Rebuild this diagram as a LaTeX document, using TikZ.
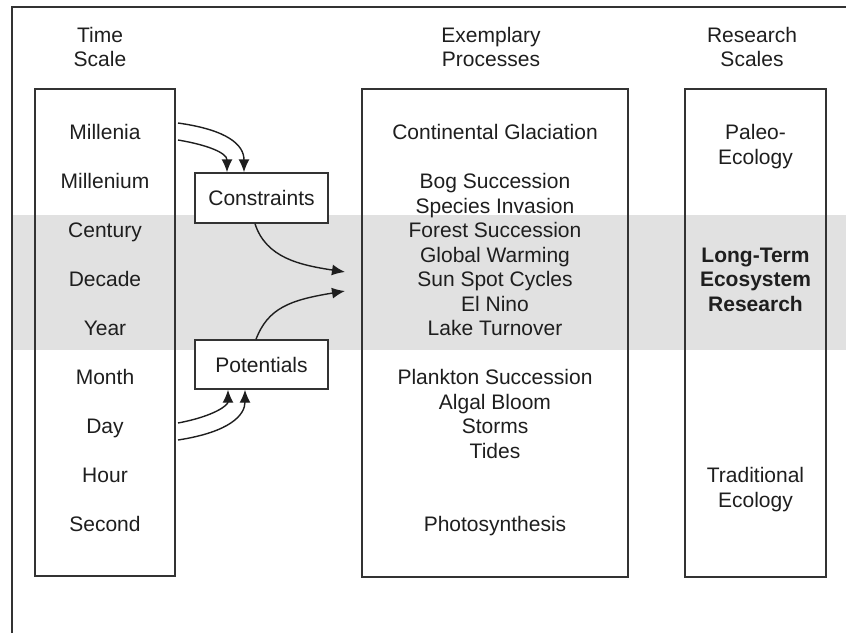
\documentclass[tikz,border=0pt]{standalone}
\usepackage{fontspec}
\setmainfont{Liberation Sans}
\usetikzlibrary{arrows.meta}
\definecolor{band}{HTML}{E1E1E1}
\definecolor{ink}{HTML}{1E1E1E}
\definecolor{edge}{HTML}{333333}
\begin{document}
\begin{tikzpicture}[x=1pt,y=-1pt,
  lbl/.style={anchor=base,inner sep=0pt,text=ink,font=\fontsize{21pt}{24.5pt}\selectfont},
  blbl/.style={lbl,font=\fontsize{21pt}{24.5pt}\selectfont\bfseries},
  colbox/.style={draw=edge,line width=1.4pt,inner sep=0pt},
  smallbox/.style={draw=edge,line width=1.4pt,fill=white,inner sep=0pt,text=ink,font=\fontsize{21pt}{24.5pt}\selectfont},
  arr/.style={draw=ink,line width=1.4pt,-{Latex[length=13pt,width=11pt]}}]
\useasboundingbox (0,0) rectangle (846,633);
% gray band
\fill[band] (12,215) rectangle (846,350);
% frame
\draw[edge,line width=1.4pt] (12,633) -- (12,7) -- (846,7);
% column boxes
\node[colbox,minimum width=140pt,minimum height=487pt] (tbox) at (105,332.5) {};
\node[colbox,minimum width=266pt,minimum height=488pt] (pbox) at (495,333) {};
\node[colbox,minimum width=141pt,minimum height=488pt] (rbox) at (755.5,333) {};
% headers
\node[lbl] (h1a) at (100,42) {Time};
\node[lbl] (h1b) at (100,66.5) {Scale};
\node[lbl] (h2a) at (491,42) {Exemplary};
\node[lbl] (h2b) at (491,66.5) {Processes};
\node[lbl] (h3a) at (752,42) {Research};
\node[lbl] (h3b) at (752,66.5) {Scales};
% time scale labels
\foreach \t/\k [count=\i] in {Millenia/0,Millenium/2,Century/4,Decade/6,Year/8,Month/10,Day/12,Hour/14,Second/16}
  \node[lbl] (t\i) at (105,139.5+24.5*\k) {\t};
% processes
\foreach \t/\k [count=\i] in {Continental Glaciation/0,Bog Succession/2,Species Invasion/3,Forest Succession/4,Global Warming/5,Sun Spot Cycles/6,El Nino/7,Lake Turnover/8,Plankton Succession/10,Algal Bloom/11,Storms/12,Tides/13,Photosynthesis/16}
  \node[lbl] (p\i) at (495,139.5+24.5*\k) {\t};
% research scales
\foreach \t/\k [count=\i] in {Paleo-/0,Ecology/1,Traditional/14,Ecology/15}
  \node[lbl] (r\i) at (755.5,139.5+24.5*\k) {\t};
\foreach \t/\k [count=\i] in {Long-Term/5,Ecosystem/6,Research/7}
  \node[blbl] (b\i) at (755.5,139.5+24.5*\k) {\t};
% constraint / potential boxes
\node[smallbox,minimum width=133pt,minimum height=50pt] (con) at (261.5,198) {Constraints};
\node[smallbox,minimum width=133pt,minimum height=49pt] (pot) at (261.5,364.5) {Potentials};
% arrow coordinates
\coordinate (s1) at (178,123);
\coordinate (s2) at (178,140);
\coordinate (s5) at (178,423);
\coordinate (s6) at (178,440);
\coordinate (e3) at (345,272);
\coordinate (e4) at (345,291);
% arrows
\draw[arr] (s1) .. controls (228,130) and (244,145) .. (con.north west -| 244,0);
\draw[arr] (s2) .. controls (208,145) and (227,153) .. (con.north west -| 227,0);
\draw[arr] (con.south west -| 255,0) .. controls (266,258) and (300,265) .. (e3);
\draw[arr] (pot.north west -| 256,0) .. controls (268,308) and (290,300) .. (e4);
\draw[arr] (s5) .. controls (215,416) and (228,405) .. (pot.south west -| 228,0);
\draw[arr] (s6) .. controls (230,432) and (245,415) .. (pot.south west -| 245,0);
\end{tikzpicture}
\end{document}
